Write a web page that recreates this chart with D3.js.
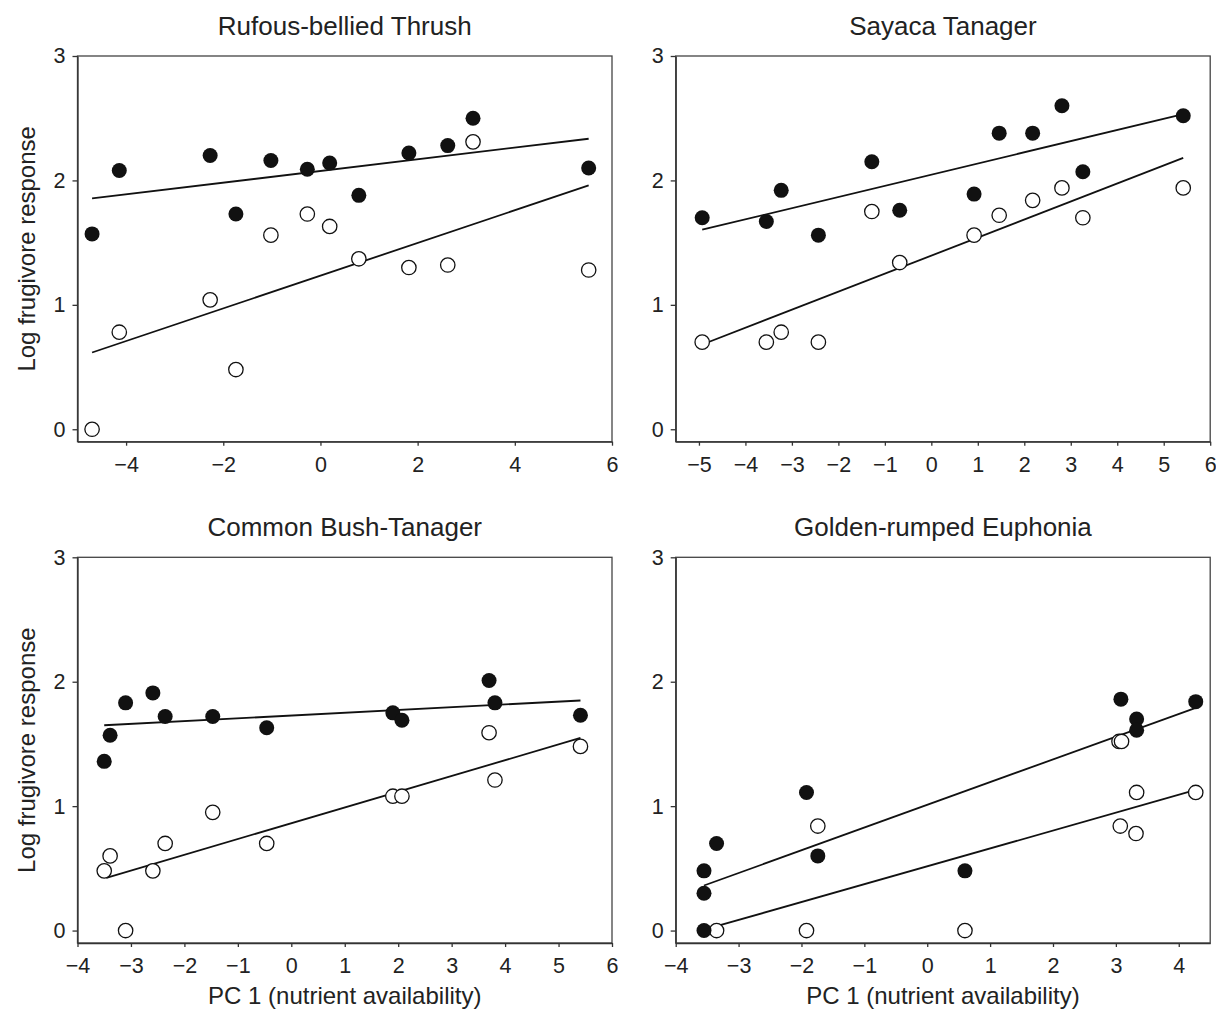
<html>
<head>
<meta charset="UTF-8"/>
<script src="https://d3js.org/d3.v7.min.js"></script>
<style>
body { margin: 0; background: #fff; }
svg { display: block; }
text { font-family: 'Liberation Sans', Arial, sans-serif; fill: #222; }
.tick text { font-size: 21.5px; fill: #222; }
.tick line, .domain { stroke: #333; stroke-width: 1.3; }
.box { fill: none; stroke: #444; stroke-width: 1.3; }
.title { font-size: 26px; }
.label { font-size: 24px; }
.fit { stroke: #111; stroke-width: 1.8; fill: none; }
.filled { fill: #111; }
.open { fill: #fff; stroke: #111; stroke-width: 1.3; }
</style>
</head>
<body>
<svg width="1216" height="1012"></svg>
<script>
// species names
const titles = ['Rufous-bellied Thrush', 'Sayaca Tanager', 'Common Bush-Tanager', 'Golden-rumped Euphonia'];

// [PC1, log response]
const thrushFilled = [[-4.70,1.57],[-4.14,2.08],[-2.27,2.20],[-1.74,1.73],[-1.02,2.16],[-0.27,2.09],[0.19,2.14],[0.79,1.88],[1.82,2.22],[2.62,2.28],[3.14,2.50],[5.52,2.10]];
const thrushOpen   = [[-4.70,0.00],[-4.14,0.78],[-2.27,1.04],[-1.74,0.48],[-1.02,1.56],[-0.27,1.73],[0.19,1.63],[0.79,1.37],[1.82,1.30],[2.62,1.32],[3.14,2.31],[5.52,1.28]];
const thrushFit    = [[[-4.70,1.855],[5.52,2.335]], [[-4.70,0.617],[5.52,1.960]]];

const sayacaFilled = [[-4.93,1.70],[-3.55,1.67],[-3.23,1.92],[-2.43,1.56],[-1.28,2.15],[-0.68,1.76],[0.92,1.89],[1.46,2.38],[2.18,2.38],[2.81,2.60],[3.26,2.07],[5.42,2.52]];
const sayacaOpen   = [[-4.93,0.70],[-3.55,0.70],[-3.23,0.78],[-2.43,0.70],[-1.28,1.75],[-0.68,1.34],[0.92,1.56],[1.46,1.72],[2.18,1.84],[2.81,1.94],[3.26,1.70],[5.42,1.94]];
const sayacaFit    = [[[-4.93,1.604],[5.42,2.533]], [[-4.93,0.681],[5.42,2.181]]];

const bushFilled = [[-3.50,1.36],[-3.39,1.57],[-3.10,1.83],[-2.59,1.91],[-2.36,1.72],[-1.47,1.72],[-0.46,1.63],[1.90,1.75],[2.07,1.69],[3.70,2.01],[3.81,1.83],[5.41,1.73]];
const bushOpen   = [[-3.50,0.48],[-3.39,0.60],[-3.10,0.00],[-2.59,0.48],[-2.36,0.70],[-1.47,0.95],[-0.46,0.70],[1.90,1.08],[2.07,1.08],[3.70,1.59],[3.81,1.21],[5.41,1.48]];
const bushFit    = [[[-3.50,1.650],[5.41,1.849]], [[-3.46,0.424],[5.41,1.548]]];

const euphFilled = [[-3.55,0.48],[-3.55,0.30],[-3.55,0.00],[-3.35,0.70],[-1.92,1.11],[-1.74,0.60],[0.60,0.48],[3.08,1.86],[3.33,1.70],[3.33,1.61],[4.27,1.84]];
const euphOpen   = [[-3.35,0.00],[-1.92,0.00],[-1.74,0.84],[0.60,0.00],[3.05,1.52],[3.09,1.52],[3.07,0.84],[3.33,1.11],[3.32,0.78],[4.27,1.11]];
const euphFit    = [[[-3.55,0.362],[4.27,1.790]], [[-3.35,0.035],[4.27,1.130]]];

// axis extents and ticks
const xDomains = [[-5, 6], [-5.5, 6], [-4, 6], [-4, 4.5]];
const xTicks = [[-4, -2, 0, 2, 4, 6], d3.range(-5, 7), d3.range(-4, 7), d3.range(-4, 5)];
const yTicks = [0, 1, 2, 3];

const filledSets = [thrushFilled, sayacaFilled, bushFilled, euphFilled];
const openSets = [thrushOpen, sayacaOpen, bushOpen, euphOpen];
const fitSets = [thrushFit, sayacaFit, bushFit, euphFit];

const svg = d3.select('svg');
const lefts = [77.5, 675.7];
const tops = [56, 557.3];
const width = 534.5;
const height = 385.7;
const fmt = d3.format('d');

titles.forEach((name, i) => {
  const col = i % 2, row = Math.floor(i / 2);
  const g = svg.append('g')
    .attr('transform', `translate(${lefts[col]}, ${tops[row]})`);

  const x = d3.scaleLinear().domain(xDomains[i]).range([0, width]);
  const y = d3.scaleLinear().domain([-0.1, 3]).range([height, 0]);

  g.append('rect')
    .attr('class', 'box')
    .attr('width', width)
    .attr('height', height);

  g.append('g')
    .attr('transform', `translate(0, ${height})`)
    .call(d3.axisBottom(x).tickValues(xTicks[i]).tickFormat(fmt)
      .tickSize(4).tickSizeOuter(0).tickPadding(11));

  g.append('g')
    .call(d3.axisLeft(y).tickValues(yTicks).tickFormat(fmt)
      .tickSize(5).tickSizeOuter(0).tickPadding(7));

  const line = d3.line().x(d => x(d[0])).y(d => y(d[1]));
  g.selectAll('.fit')
    .data(fitSets[i])
    .enter()
    .append('path')
    .attr('class', 'fit')
    .attr('d', line);

  g.selectAll('.open')
    .data(openSets[i])
    .enter()
    .append('circle')
    .attr('class', 'open')
    .attr('cx', d => x(d[0]))
    .attr('cy', d => y(d[1]))
    .attr('r', 7.2);

  g.selectAll('.filled')
    .data(filledSets[i])
    .enter()
    .append('circle')
    .attr('class', 'filled')
    .attr('cx', d => x(d[0]))
    .attr('cy', d => y(d[1]))
    .attr('r', 7.5);

  g.append('text')
    .attr('class', 'title')
    .attr('x', width / 2)
    .attr('y', -21)
    .attr('text-anchor', 'middle')
    .text(name);

  if (col === 0) {
    g.append('text')
      .attr('class', 'label')
      .attr('transform', `translate(${35 - lefts[0]}, ${height / 2}) rotate(-90)`)
      .attr('text-anchor', 'middle')
      .text('Log frugivore response');
  }
  if (row === 1) {
    g.append('text')
      .attr('class', 'label')
      .attr('x', width / 2)
      .attr('y', 1004 - tops[1])
      .attr('text-anchor', 'middle')
      .text('PC 1 (nutrient availability)');
  }
});
</script>
</body>
</html>
